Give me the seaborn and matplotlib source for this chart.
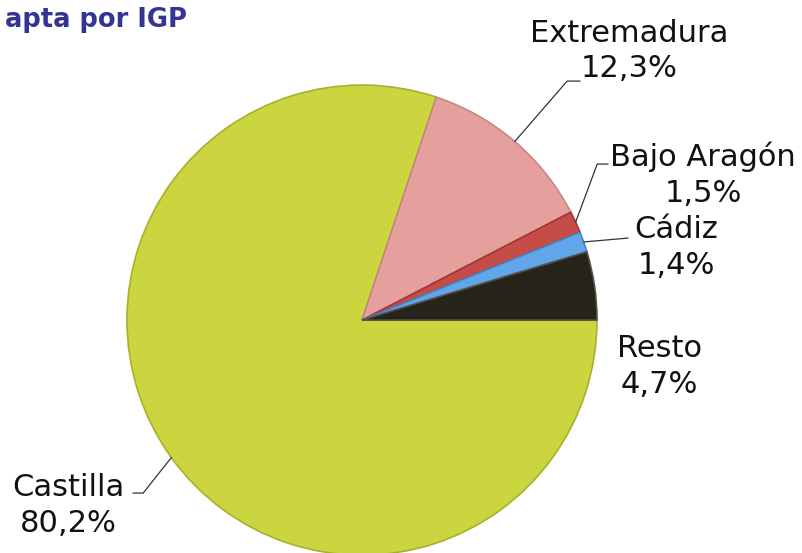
import numpy as np
import matplotlib
matplotlib.use("Agg")
import matplotlib.pyplot as plt
import seaborn as sns

# data
regions = ["Castilla", "Extremadura", "Bajo Aragón", "Cádiz", "Resto"]
shares = [80.2, 12.3, 1.5, 1.4, 4.7]
share_labels = ["80,2%", "12,3%", "1,5%", "1,4%", "4,7%"]
colors = ["#CAD53F", "#E5A09D", "#C64C48", "#62A6EA", "#26231B"]
edges = ["#A8B02E", "#C88684", "#9E3835", "#4684C4", "#55524A"]

sns.set_theme(style="white")
plt.rcParams['font.family'] = ['DejaVu Sans']

fig = plt.figure(figsize=(8.02, 5.53), dpi=100)
ax = fig.add_axes([0, 0, 1, 1])

wedges, _ = ax.pie(shares, colors=colors, startangle=0, counterclock=False,
                   radius=1, wedgeprops=dict(linewidth=1.2))
for w, ec in zip(wedges, edges):
    w.set_edgecolor(ec)

ax.set_xlim(-1.540, 1.872)
ax.set_ylim(-0.991, 1.362)
ax.set_aspect('equal')
ax.axis('off')

# label text centres and leader paths (elbow, end) in axes data units
text_pos = {
    "Castilla": (-1.25, -0.787),
    "Extremadura": (1.137, 1.145),
    "Bajo Aragón": (1.452, 0.617),
    "Cádiz": (1.337, 0.31),
    "Resto": (1.264, -0.196),
}
leaders = {
    "Castilla": [(-0.931, -0.736), (-0.974, -0.736)],
    "Extremadura": [(0.873, 1.017), (0.928, 1.017)],
    "Bajo Aragón": [(1.001, 0.664), (1.047, 0.664)],
    "Cádiz": [(1.132, 0.349)],
}

for w, name, lab in zip(wedges, regions, share_labels):
    tx, ty = text_pos[name]
    ax.text(tx, ty, f"{name}\n{lab}", ha="center", va="center",
            fontsize=22, color="#111111", linespacing=1.3)
    if name in leaders:
        mid = np.deg2rad((w.theta1 + w.theta2) / 2)
        cx, cy = w.center
        start = (cx + w.r * np.cos(mid), cy + w.r * np.sin(mid))
        pts = [start] + leaders[name]
        xs, ys = zip(*pts)
        ax.plot(xs, ys, color="#333333", lw=0.9)

fig.text(5 / 802, 1 - 27 / 553, "apta por IGP", fontsize=18.5, fontweight="bold",
         color="#343494", ha="left", va="baseline")

fig.savefig("out.png", dpi=100)
